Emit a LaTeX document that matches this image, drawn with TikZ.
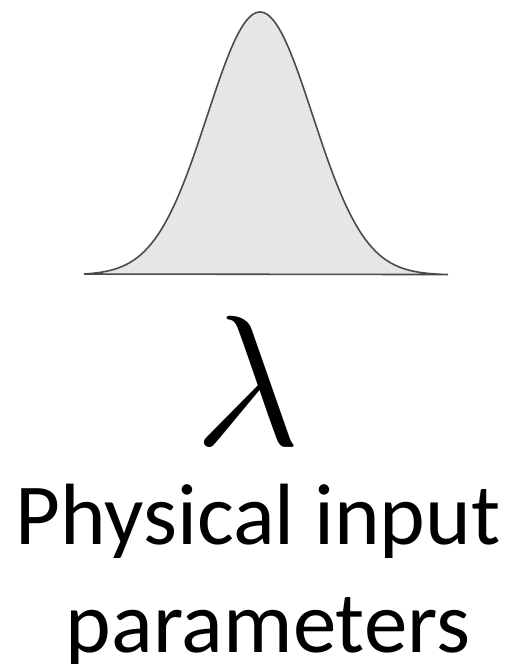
\documentclass[tikz,border=0pt]{standalone}
\usepackage{fix-cm}
\usepackage{fontspec}
\setmainfont{Carlito}
\usepackage{xcolor}
\usepackage{tikz}
\usetikzlibrary{positioning}

\definecolor{curvefill}{HTML}{E5E7E7}
\definecolor{curveline}{HTML}{4A4A4A}

\begin{document}
\begin{tikzpicture}[
        x=0.02cm, y=-0.02cm,
        pdfcurve/.style={draw=curveline, fill=curvefill, line width=0.9pt},
        symbolnode/.style={inner sep=0pt, font=\fontsize{106}{106}\selectfont},
        captionnode/.style={inner sep=0pt, font=\fontsize{49.5}{57}\selectfont}
    ]
    \useasboundingbox (0,0) rectangle (513,664);

    % ============ DISTRIBUTION ============
    \draw[pdfcurve, domain=84:448, samples=150, smooth]
        plot (\x, {275-263*exp(-((\x-260)/52.7)^2/2)}) -- cycle;

    % ============ PARAMETER SYMBOL ============
    \node[symbolnode, anchor=base] (lambda) at (248,445) {$\lambda$};

    % ============ CAPTION ============
    \node[captionnode, anchor=base] (captiontop) at (258,544) {Physical input};
    \node[captionnode, anchor=base] (captionbottom) at (268,652) {parameters};

\end{tikzpicture}
\end{document}
